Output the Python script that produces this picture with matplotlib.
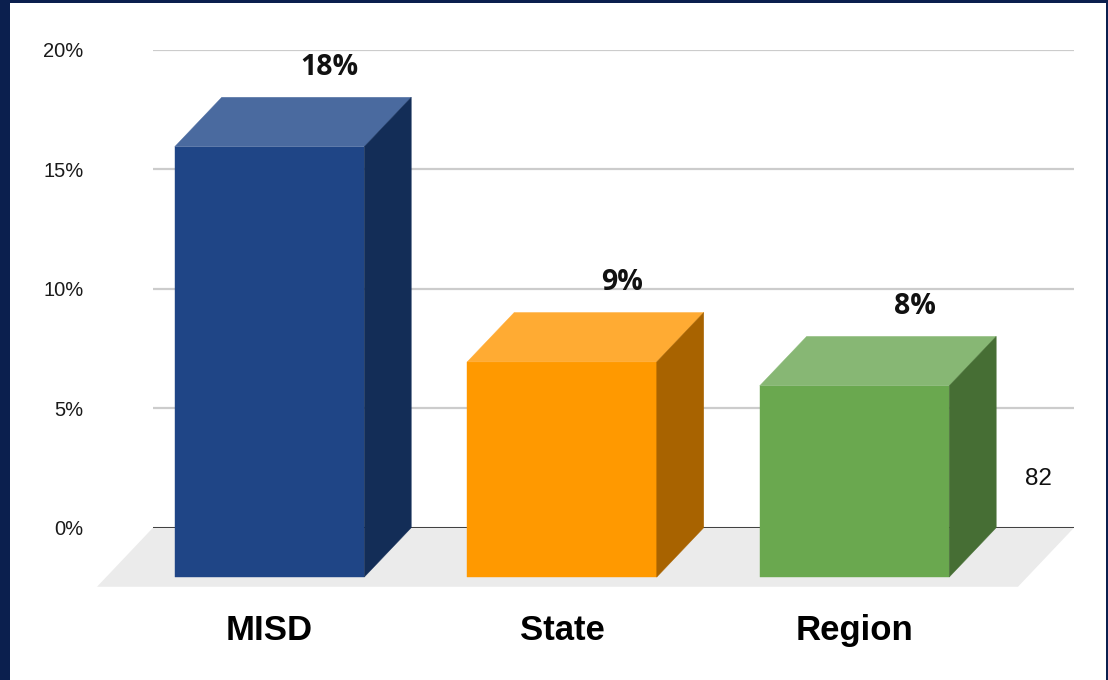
import matplotlib.pyplot as plt
from matplotlib.patches import Polygon, Rectangle

# values shown on the chart (percent)
categories = ['MISD', 'State', 'Region']
values = [18, 9, 8]
y_ticks = [0, 5, 10, 15, 20]
y_tick_labels = ['0%', '5%', '10%', '15%', '20%']
side_note = '82'

# face colours per bar: front, top, side
front_colors = ['#1f4586', '#ff9900', '#6aa84f']
top_colors = ['#4a6a9f', '#ffab33', '#87b774']
side_colors = ['#132d57', '#a86300', '#466e34']

navy = '#0b1f4e'
bar_w = 0.648
# fake 3d depth (x in category units, y in percent units)
dx, dy = -0.1607, -2.066
floor_dx, floor_dy = -0.1915, -2.47
x_min, x_max = -0.559, 2.590

fig = plt.figure(figsize=(11.08, 6.8), dpi=100, facecolor=navy)
fig.patches.append(Rectangle((10 / 1108, 0), 1096 / 1108, 677 / 680,
                             transform=fig.transFigure, facecolor='white',
                             edgecolor='none', zorder=-10))

ax = fig.add_axes([153 / 1108, (680 - 527.7) / 680,
                   921 / 1108, (527.7 - 49.5) / 680])
ax.set_facecolor('none')
ax.set_xlim(x_min, x_max)
ax.set_ylim(0, 20)
for s in ax.spines.values():
    s.set_visible(False)

ax.set_yticks(y_ticks)
ax.set_yticklabels(y_tick_labels, fontsize=14.5, fontfamily='Liberation Sans',
                   color='#1a1a1a')
ax.tick_params(axis='y', length=0, pad=50)
ax.set_xticks([])
ax.grid(axis='y', color='#cccccc', lw=1.6, zorder=0)
ax.set_axisbelow(True)

# floor
floor = Polygon([(x_min, 0), (x_max, 0), (x_max + floor_dx, floor_dy),
                 (x_min + floor_dx, floor_dy)], closed=True,
                facecolor='#ebebeb', edgecolor='none', clip_on=False, zorder=1)
ax.add_patch(floor)
ax.plot([x_min, x_max], [0, 0], color='#333333', lw=1.3, zorder=2,
        solid_capstyle='butt')

for i, (cat, v) in enumerate(zip(categories, values)):
    l, r = i - bar_w / 2, i + bar_w / 2
    front = [(l + dx, dy), (r + dx, dy), (r + dx, v + dy), (l + dx, v + dy)]
    top = [(l, v), (r, v), (r + dx, v + dy), (l + dx, v + dy)]
    side = [(r, v), (r, 0), (r + dx, dy), (r + dx, v + dy)]
    for pts, c in [(front, front_colors[i]), (top, top_colors[i]),
                   (side, side_colors[i])]:
        ax.add_patch(Polygon(pts, closed=True, facecolor=c, edgecolor=c,
                             lw=0.3, clip_on=False, zorder=3))
    ax.text(i + 0.045, v + 1.25, f'{v}%', ha='center', va='center',
            fontsize=20.5, fontweight='bold', fontfamily='Open Sans',
            color='#111111', zorder=4)
    ax.text(i + dx, -4.28, cat, ha='center', va='center', fontsize=25,
            fontweight='bold', fontfamily='Liberation Sans', color='black',
            clip_on=False)

ax.text(2.467, 2.04, side_note, ha='center', va='center', fontsize=17.5,
        fontfamily='Liberation Sans', color='#111111', clip_on=False)

fig.savefig('out.png', dpi=100, facecolor=navy)
